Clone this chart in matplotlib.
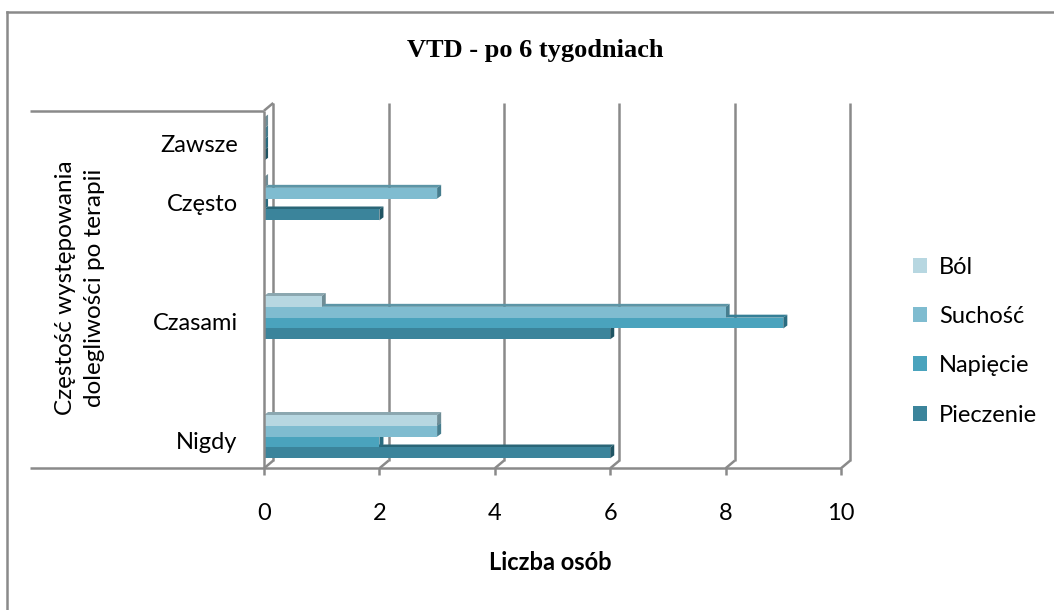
"""
Horizontal 3-D style bar chart: complaint frequency after 6 weeks of VTD.
"""

import matplotlib.pyplot as plt
from matplotlib.patches import Polygon, Patch
from matplotlib.lines import Line2D
from matplotlib.transforms import ScaledTranslation

plt.rcParams['font.family'] = ['Lato', 'DejaVu Sans']

# ── Data ───────────────────────────────────────────────────────────────────

categories = ['Nigdy', 'Czasami', 'Często', 'Zawsze']
series_names = ['Pieczenie', 'Napięcie', 'Suchość', 'Ból']
pieczenie = [6, 6, 2, 0]
napiecie = [2, 9, 0, 0]
suchosc = [3, 8, 3, 0]
bol = [3, 1, 0, 0]
x_ticks = [0, 2, 4, 6, 8, 10]

series_values = [pieczenie, napiecie, suchosc, bol]

# ── Style / layout ─────────────────────────────────────────────────────────

cat_pos = [0, 1, 2, 2.5]          # row of each category group
front_colors = ['#3B849B', '#4AA3BD', '#7FBCD0', '#B7D7E1']
top_colors = ['#2A6677', '#357F96', '#5C95A6', '#8BA7B0']
side_colors = ['#1F5463', '#2A6C80', '#467D8E', '#6F8D96']
line_col = '#8A8A8A'
lw = 1.8

bar_h = 0.091                      # height of a single bar
bar_dx, bar_dy = 0.07, 0.025       # bar depth
wall_dx, wall_dy = 0.16, 0.065     # depth of the back wall
y_floor, y_top = -0.266, 2.804
tick_len = 0.06
left_edge = -4.06                  # where the category separators start

fig = plt.figure(figsize=(10.54, 6.1), dpi=100)
ax = fig.add_axes([0.2505, 0.2323, 0.5474, 0.5989])
ax.set_xlim(0, 10)
ax.set_ylim(y_floor, y_top)
for sp in ax.spines.values():
    sp.set_visible(False)


def seg(xs, ys, z=1):
    ax.add_line(Line2D(xs, ys, color=line_col, lw=lw, clip_on=False,
                       zorder=z, solid_capstyle='butt'))


# ── Walls and gridlines ────────────────────────────────────────────────────

for v in x_ticks:
    seg([v + wall_dx, v + wall_dx], [y_floor + wall_dy, y_top])
    seg([v, v + wall_dx], [y_floor, y_floor + wall_dy])
    seg([v, v], [y_floor, y_floor - tick_len])

# left wall front edge and its top corner
seg([0, 0], [y_floor, y_top - wall_dy], z=10)
seg([0, wall_dx], [y_top - wall_dy, y_top])
# category separators across the label area, floor front line
seg([left_edge, 0], [y_top - wall_dy, y_top - wall_dy])
seg([left_edge, x_ticks[-1]], [y_floor, y_floor], z=10)

# ── Bars ───────────────────────────────────────────────────────────────────

for j, vals in enumerate(series_values):
    ys = [p + (j - 1.5) * bar_h for p in cat_pos]
    z = 4 + j
    ax.barh(ys, vals, height=bar_h, left=0, color=front_colors[j],
            linewidth=0, zorder=z + 0.5)
    for y, v in zip(ys, vals):
        y0, y1 = y - bar_h / 2, y + bar_h / 2
        top = Polygon([(0, y1), (v, y1), (v + bar_dx, y1 + bar_dy),
                       (bar_dx, y1 + bar_dy)], closed=True,
                      facecolor=top_colors[j], edgecolor='none', zorder=z)
        side = Polygon([(v, y0), (v, y1), (v + bar_dx, y1 + bar_dy),
                        (v + bar_dx, y0 + bar_dy)], closed=True,
                       facecolor=side_colors[j], edgecolor='none', zorder=z)
        ax.add_patch(top)
        ax.add_patch(side)

# ── Ticks and labels ───────────────────────────────────────────────────────

ax.set_xticks(x_ticks)
ax.set_xticklabels([str(t) for t in x_ticks], fontsize=17)
ax.tick_params(axis='x', length=0, pad=25)
ax.set_yticks(cat_pos)
ax.set_yticklabels(categories, fontsize=17)
ax.tick_params(axis='y', length=0, pad=19)
shift = ScaledTranslation(0, -0.04, fig.dpi_scale_trans)
for lbl in ax.get_yticklabels():
    lbl.set_transform(lbl.get_transform() + shift)

fig.text(535 / 1054, 1 - 51 / 610, 'VTD - po 6 tygodniach',
         family='Liberation Serif', fontweight='bold', fontsize=19,
         ha='center', va='center')
fig.text(550 / 1054, 1 - 563 / 610, 'Liczba osób', fontweight='bold',
         fontsize=17, ha='center', va='center')
fig.text(80 / 1054, 1 - 288 / 610,
         'Częstość występowania\ndolegliwości po terapii',
         fontsize=17.5, rotation=90, ha='center', va='center',
         linespacing=1.5)

handles = [Patch(facecolor=front_colors[j], edgecolor='none')
           for j in range(3, -1, -1)]
labels = [series_names[j] for j in range(3, -1, -1)]
fig.legend(handles, labels, loc='center left',
           bbox_to_anchor=(913 / 1054, 1 - 341 / 610), frameon=False,
           fontsize=17, handlelength=0.6, handleheight=0.6,
           handletextpad=0.5, labelspacing=1.2, borderpad=0,
           borderaxespad=0)

# outer chart border
fig.add_artist(Line2D([7 / 1054, 7 / 1054], [0, 1 - 12 / 610],
                      transform=fig.transFigure, color=line_col, lw=1.8))
fig.add_artist(Line2D([7 / 1054, 1], [1 - 12 / 610, 1 - 12 / 610],
                      transform=fig.transFigure, color=line_col, lw=1.8))

fig.savefig('out.png', dpi=100)
plt.close(fig)
